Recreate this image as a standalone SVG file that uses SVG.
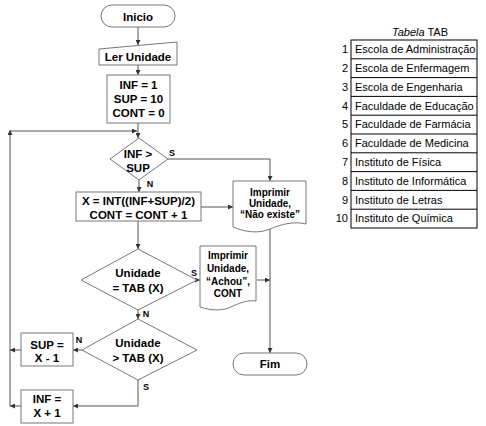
<svg xmlns="http://www.w3.org/2000/svg" width="486" height="426" viewBox="0 0 486 426">
<defs>
<marker id="ah" viewBox="0 0 6 6" refX="6" refY="3" markerWidth="5" markerHeight="5" markerUnits="userSpaceOnUse" orient="auto">
<path d="M0,0 L6,3 L0,6 z" fill="#333"/>
</marker>
<style>
.shape{fill:#fff;stroke:#777;stroke-width:1}
.t{font-family:"Liberation Sans",Arial,sans-serif;font-weight:bold;font-size:11.5px;fill:#000;text-anchor:middle}
.d{font-family:"Liberation Sans",Arial,sans-serif;font-weight:bold;font-size:10px;fill:#000;text-anchor:middle}
.l{font-family:"Liberation Sans",Arial,sans-serif;font-weight:bold;font-size:9px;fill:#000;text-anchor:middle}
.c{fill:none;stroke:#555;stroke-width:1;marker-end:url(#ah)}
.tb{font-family:"Liberation Sans",Arial,sans-serif;font-size:11px;fill:#000}
.row{fill:#fff;stroke:#000;stroke-width:1}
</style>
</defs>
<rect width="486" height="426" fill="#fff"/>

<g id="connectors">
<path class="c" d="M138,27 V45"/>
<path class="c" d="M138,65 V75"/>
<path class="c" d="M138,123 V138"/>
<path class="c" d="M10,406 V130"/>
<path class="c" d="M10,131 H137"/>
<path class="c" d="M168,159 H270 V181"/>
<path class="c" d="M139,180 V192"/>
<path class="c" d="M201,207 H233"/>
<path class="c" d="M138,221 V249"/>
<path class="c" d="M197,280 H200"/>
<path class="c" d="M257,280 H270"/>
<path class="c" d="M270,228 V353"/>
<path class="c" d="M138,310 V319"/>
<path class="c" d="M82,350 H73"/>
<path class="c" d="M21,350 H10"/>
<path class="c" d="M138,380 V406 H73"/>
<path class="c" d="M21,406 H10"/>
<text class="l" x="172" y="156">S</text>
<text class="l" x="150" y="187">N</text>
<text class="l" x="194" y="276">S</text>
<text class="l" x="146" y="317">N</text>
<text class="l" x="79" y="343">N</text>
<text class="l" x="146" y="390">S</text>
</g>

<g id="inicio">
<rect class="shape" x="101" y="5" width="74" height="22" rx="11" ry="11"/>
<text class="t" x="138" y="21">Inicio</text>
</g>

<g id="ler">
<polygon class="shape" points="99,49 177,42 177,65 99,65"/>
<text class="t" x="138" y="61">Ler Unidade</text>
</g>

<g id="init">
<rect class="shape" x="107" y="75" width="63" height="48"/>
<text class="t" x="138.5" y="89">INF = 1</text>
<text class="t" x="138.5" y="103">SUP = 10</text>
<text class="t" x="138.5" y="117">CONT = 0</text>
</g>

<g id="dec1">
<polygon class="shape" points="139,138 168,159 139,180 110,159"/>
<text class="t" x="138" y="158">INF &gt;</text>
<text class="t" x="138" y="172">SUP</text>
</g>

<g id="calc">
<rect class="shape" x="76" y="192" width="125" height="29"/>
<text class="t" x="138.5" y="205">X = INT((INF+SUP)/2)</text>
<text class="t" x="138.5" y="219">CONT = CONT + 1</text>
</g>

<g id="naoexiste">
<path class="shape" d="M233,181 H306 V224 C294,221 282,224 270,229 C258,234 245,232 233,227 Z"/>
<text class="d" x="270" y="196">Imprimir</text>
<text class="d" x="270" y="207">Unidade,</text>
<text class="d" x="270" y="218">“Não existe”</text>
</g>

<g id="dec2">
<polygon class="shape" points="138,249 197,280 138,310 81,280"/>
<text class="t" x="138" y="277">Unidade</text>
<text class="t" x="138" y="292">= TAB (X)</text>
</g>

<g id="achou">
<path class="shape" d="M200,246 H256 V301 C248,300 242,302 233,306 C224,311 212,311 200,307 Z"/>
<text class="d" x="228" y="259">Imprimir</text>
<text class="d" x="228" y="272">Unidade,</text>
<text class="d" x="228" y="285">“Achou”,</text>
<text class="d" x="228" y="297">CONT</text>
</g>

<g id="dec3">
<polygon class="shape" points="138,319 197,350 138,380 82,350"/>
<text class="t" x="138" y="347">Unidade</text>
<text class="t" x="138" y="362">&gt; TAB (X)</text>
</g>

<g id="sup">
<rect class="shape" x="21" y="333" width="52" height="33"/>
<text class="t" x="47" y="349">SUP =</text>
<text class="t" x="47" y="362">X - 1</text>
</g>

<g id="inf">
<rect class="shape" x="21" y="390" width="52" height="33"/>
<text class="t" x="47" y="403">INF =</text>
<text class="t" x="47" y="417">X + 1</text>
</g>

<g id="fim">
<rect class="shape" x="233" y="353" width="74" height="22" rx="11" ry="11"/>
<text class="t" x="270" y="368">Fim</text>
</g>

<g id="tabela">
<text class="tb" x="420" y="36" text-anchor="middle"><tspan font-style="italic">Tabela</tspan> TAB</text>
<rect class="row" x="351" y="40" width="126" height="188"/>
<path d="M351,58.8 H477 M351,77.6 H477 M351,96.4 H477 M351,115.2 H477 M351,134 H477 M351,152.8 H477 M351,171.6 H477 M351,190.4 H477 M351,209.2 H477" stroke="#000" stroke-width="1"/>
<g class="tb" text-anchor="end">
<text x="348" y="53">1</text>
<text x="348" y="72">2</text>
<text x="348" y="90.5">3</text>
<text x="348" y="109.5">4</text>
<text x="348" y="128">5</text>
<text x="348" y="147">6</text>
<text x="348" y="166">7</text>
<text x="348" y="184.5">8</text>
<text x="348" y="203.5">9</text>
<text x="348" y="222">10</text>
</g>
<g class="tb">
<text x="355" y="53">Escola de Administração</text>
<text x="355" y="72">Escola de Enfermagem</text>
<text x="355" y="90.5">Escola de Engenharia</text>
<text x="355" y="109.5">Faculdade de Educação</text>
<text x="355" y="128">Faculdade de Farmácia</text>
<text x="355" y="147">Faculdade de Medicina</text>
<text x="355" y="166">Instituto de Física</text>
<text x="355" y="184.5">Instituto de Informática</text>
<text x="355" y="203.5">Instituto de Letras</text>
<text x="355" y="222">Instituto de Química</text>
</g>
</g>
</svg>
